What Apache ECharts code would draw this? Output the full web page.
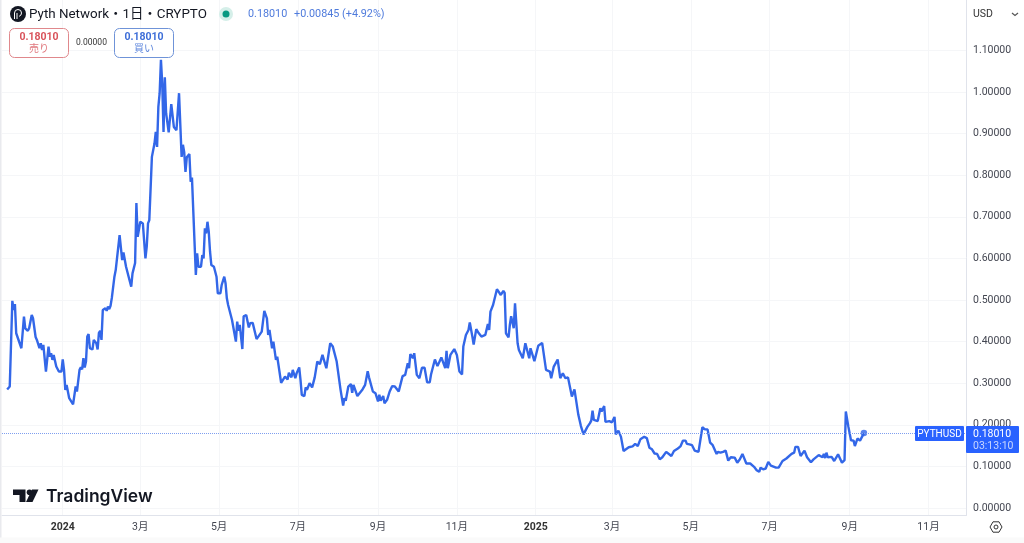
<!DOCTYPE html>
<html>
<head>
<meta charset="utf-8">
<title>PYTHUSD</title>
<script src="https://cdn.jsdelivr.net/npm/echarts@6/dist/echarts.min.js"></script>
<style>
  html, body { margin: 0; padding: 0; background: #fff; }
  #chart { width: 1024px; height: 543px; }
</style>
</head>
<body>
<div id="chart"></div>
<script>
// days counted from 2024-01-01
var days = [
  -43,-41,-39,-38,-37,-36,-35,-32,-30,-29,-28,-27,-26,-24,-23,-22,-21,-20,-18,-17,-16,-15,-13,-11,-10,-9,-8,-7,-5,-3,-1,
  0,1,2,3,5,6,8,10,11,13,14,15,16,17,18,19,20,21,23,24,26,27,28,29,30,31,33,34,35,36,37,38,40,41,44,46,47,49,51,53,54,56,57,58,
  60,62,64,65,66,67,69,71,72,73,74,75,76,77,78,79,80,82,84,86,88,90,92,93,94,95,96,98,99,100,103,104,105,107,108,109,110,111,112,113,114,115,117,119,
  120,122,123,125,126,127,128,129,131,134,135,136,137,138,139,140,142,144,145,147,150,151,154,156,158,159,160,162,163,165,166,169,172,174,175,177,178,180,
  181,183,184,185,187,188,189,191,193,195,197,199,201,202,204,207,209,212,215,217,218,219,221,223,224,225,226,228,232,234,236,237,240,242,
  244,245,246,248,249,251,253,255,257,260,263,265,267,268,269,271,272,274,275,276,278,280,282,284,285,286,288,290,293,296,297,298,300,303,
  305,307,309,310,312,314,315,317,318,320,322,324,327,329,330,331,333,336,339,341,342,343,345,346,347,349,350,352,353,354,356,358,359,361,362,365,
  368,371,374,377,378,380,383,385,387,389,391,394,396,399,400,401,403,406,408,409,410,411,414,416,417,419,420,423,425,
  427,428,430,432,434,438,439,441,443,445,447,450,452,454,456,458,460,462,464,467,471,473,476,478,480,482,483,485,487,489,492,
  495,497,499,501,503,506,507,509,511,513,515,517,520,522,524,526,529,532,535,537,539,540,542,544,546,548,549,552,554,557,560,
  564,566,567,569,571,574,576,579,581,582,585,588,589,590,591,592,595,597,600,603,605,606,608,610,612,613,615,617,620
];
var prices = [
  .285,.292,.498,.476,.49,.42,.421,.384,.46,.432,.436,.426,.432,.464,.456,.459,.411,.404,.384,.396,.38,.392,.328,.388,.364,.372,.356,.368,.34,.328,.328,
  .357,.332,.284,.296,.264,.26,.249,.292,.28,.332,.338,.333,.36,.338,.352,.412,.418,.384,.381,.404,.396,.381,.421,.426,.404,.476,.48,.474,.484,.478,.486,.505,.556,.572,.656,.596,.614,.58,.556,.532,.564,.589,.733,.652,
  .688,.684,.6,.628,.684,.692,.844,.876,.904,.868,.964,.997,1.077,1.02,.904,1.035,.949,.903,.971,.916,.908,.997,.844,.873,.855,.808,.843,.851,.784,.794,.56,.612,.58,.58,.608,.6,.672,.66,.688,.664,.616,.584,.58,.556,
  .516,.516,.536,.556,.54,.504,.488,.484,.452,.4,.448,.426,.44,.44,.382,.461,.464,.434,.444,.445,.406,.406,.424,.474,.456,.416,.428,.384,.4,.356,.364,.301,.316,.309,.325,.314,.332,.312,
  .324,.338,.308,.272,.269,.29,.284,.3,.29,.314,.352,.346,.368,.368,.336,.396,.388,.352,.284,.246,.264,.258,.292,.298,.277,.296,.292,.269,.285,.296,.329,.314,.28,.276,
  .256,.272,.258,.269,.252,.26,.28,.293,.292,.28,.317,.32,.348,.336,.37,.36,.372,.32,.316,.312,.337,.337,.302,.302,.321,.325,.357,.341,.362,.336,.378,.336,.368,.382,
  .368,.328,.321,.388,.416,.428,.446,.412,.393,.43,.42,.412,.416,.442,.428,.472,.488,.526,.512,.522,.517,.42,.41,.44,.461,.432,.492,.396,.38,.382,.36,.396,.392,.36,.384,.353,
  .39,.397,.332,.328,.312,.34,.357,.312,.324,.312,.314,.268,.285,.224,.222,.197,.177,.195,.204,.21,.234,.212,.209,.24,.232,.245,.207,.209,.206,
  .219,.177,.186,.171,.137,.146,.15,.148,.154,.149,.165,.171,.168,.145,.141,.131,.13,.117,.122,.135,.125,.137,.143,.148,.162,.162,.154,.153,.151,.138,.135,
  .194,.189,.189,.157,.151,.13,.135,.133,.135,.138,.114,.122,.121,.109,.117,.13,.107,.107,.099,.091,.087,.097,.093,.095,.111,.102,.103,.097,.097,.113,.119,
  .13,.133,.147,.147,.125,.138,.122,.11,.117,.114,.127,.122,.13,.12,.133,.122,.123,.113,.129,.109,.115,.232,.195,.163,.162,.149,.167,.162,.1801
];
var tickDays = [0,60,121,182,244,305,366,425,486,547,609,670];
var tickLabels = ['2024','3月','5月','7月','9月','11月','2025','3月','5月','7月','9月','11月'];
var priceTicks = [0,0.1,0.2,0.3,0.4,0.5,0.6,0.7,0.8,0.9,1.0,1.1];

var lastPrice = prices[prices.length - 1];
var blue = '#2962ff';
var lineBlue = '#3367e8';
var cjk = 'Roboto, "Noto Sans CJK JP", sans-serif';

var lineData = days.map(function (d, i) { return [d, prices[i]]; });

function txt(x, y, text, size, color, extra) {
  var s = { x: x, y: y, text: text, fontSize: size, fill: color, fontFamily: cjk, textVerticalAlign: 'middle' };
  for (var k in (extra || {})) s[k] = extra[k];
  return { type: 'text', z: 20, silent: true, style: s };
}
function box(x, y, w, h, r, fill, stroke) {
  return { type: 'rect', z: 19, silent: true, shape: { x: x, y: y, width: w, height: h, r: r },
    style: { fill: fill, stroke: stroke || null, lineWidth: 1 } };
}

var chart = echarts.init(document.getElementById('chart'));

chart.setOption({
  animation: false,
  backgroundColor: '#fff',
  grid: { left: 2, right: 58, top: 0, bottom: 27.5 },
  xAxis: {
    type: 'value',
    min: -47,
    max: 699,
    axisLine: { onZero: false, lineStyle: { color: '#e0e3eb' } },
    axisTick: { show: false, customValues: tickDays },
    splitLine: { show: true, lineStyle: { color: '#f5f6f8' } },
    axisLabel: {
      customValues: tickDays,
      margin: 7,
      hideOverlap: false,
      color: '#434651',
      fontSize: 10.5,
      fontFamily: cjk,
      formatter: function (v) {
        var label = tickLabels[tickDays.indexOf(v)];
        return label.length === 4 ? '{year|' + label + '}' : label;
      },
      rich: { year: { fontWeight: 'bold', fontSize: 10.5, color: '#333', fontFamily: cjk } }
    }
  },
  yAxis: {
    type: 'value',
    position: 'right',
    min: -0.018,
    max: 1.221,
    axisLine: { show: true, onZero: false, lineStyle: { color: '#e0e3eb' } },
    axisTick: { show: false, customValues: priceTicks },
    splitLine: { show: true, lineStyle: { color: '#f5f6f8' } },
    axisLabel: {
      customValues: priceTicks,
      margin: 7,
      padding: [2, 0, 0, 0],
      color: '#434651',
      fontSize: 10.5,
      fontFamily: cjk,
      formatter: function (v) { return v.toFixed(5); }
    }
  },
  series: [
    {
      type: 'line',
      data: lineData,
      showSymbol: false,
      smooth: false,
      lineStyle: { color: lineBlue, width: 2.4 },
      markLine: {
        silent: true,
        symbol: 'none',
        label: { show: false },
        lineStyle: { color: '#7f9fef', type: 'dotted', width: 1 },
        data: [{ yAxis: lastPrice }]
      }
    },
    {
      type: 'scatter',
      data: [lineData[lineData.length - 1]],
      symbolSize: 6.5,
      itemStyle: { color: lineBlue }
    }
  ],
  graphic: [
    // left edge strip
    box(0, 0, 1.5, 543, 0, '#e9eaee'),

    // title row
    { type: 'circle', z: 19, silent: true, shape: { cx: 18, cy: 14, r: 8 }, style: { fill: '#131722' } },
    { type: 'arc', z: 20, silent: true, shape: { cx: 18, cy: 13, r: 3.5, startAngle: Math.PI, endAngle: Math.PI * 2.4 },
      style: { stroke: '#fff', lineWidth: 1, fill: null } },
    { type: 'line', z: 20, silent: true, shape: { x1: 14.5, y1: 13, x2: 14.5, y2: 19 }, style: { stroke: '#fff', lineWidth: 1 } },
    { type: 'line', z: 20, silent: true, shape: { x1: 17, y1: 13, x2: 17, y2: 19 }, style: { stroke: '#fff', lineWidth: 1 } },
    txt(29, 14.5, 'Pyth Network・1日・CRYPTO', 13.4, '#131722'),
    { type: 'circle', z: 19, silent: true, shape: { cx: 226, cy: 14, r: 7 }, style: { fill: '#d5efe9' } },
    { type: 'circle', z: 20, silent: true, shape: { cx: 226, cy: 14, r: 3.5 }, style: { fill: '#089981' } },
    txt(248, 14.5, '0.18010', 10.8, '#4f7bdc'),
    txt(294, 14.5, '+0.00845 (+4.92%)', 10.8, '#4f7bdc'),

    // sell / buy badges
    box(9.5, 28.5, 59, 29, 5, '#fff', '#e0888c'),
    txt(39, 37, '0.18010', 10.5, '#d9545c', { textAlign: 'center', fontWeight: 'bold' }),
    txt(39, 49.5, '売り', 10, '#e0777d', { textAlign: 'center' }),
    txt(76, 43, '0.00000', 8.5, '#333', {}),
    box(114.5, 28.5, 59, 29, 5, '#fff', '#6f93d8'),
    txt(144, 37, '0.18010', 10.5, '#3f6fd8', { textAlign: 'center', fontWeight: 'bold' }),
    txt(144, 49.5, '買い', 10, '#5d86dc', { textAlign: 'center' }),

    // currency
    box(967, 0, 57, 28, 0, '#fff'),
    txt(973, 14, 'USD', 10.5, '#333'),
    { type: 'polyline', z: 20, silent: true, shape: { points: [[1012, 13], [1015, 15.5], [1018, 13]] },
      style: { stroke: '#555', lineWidth: 1.2, fill: null } },

    // last price tags
    box(915, 426, 49, 15, 1, blue),
    txt(939.5, 434, 'PYTHUSD', 10, '#fff', { textAlign: 'center' }),
    box(966, 426, 53, 27, 1, blue),
    txt(973, 434, '0.18010', 10.5, '#fff'),
    txt(973, 446.5, '03:13:10', 10.5, '#c9d6ff'),

    // TradingView mark
    { type: 'polygon', z: 20, silent: true, shape: { points: [[13, 489.5], [25.5, 489.5], [25.5, 502], [19.5, 502], [19.5, 495], [13, 495]] },
      style: { fill: '#131722' } },
    { type: 'circle', z: 20, silent: true, shape: { cx: 29.5, cy: 492.3, r: 2.8 }, style: { fill: '#131722' } },
    { type: 'polygon', z: 20, silent: true, shape: { points: [[32, 489.5], [38.5, 489.5], [32.5, 502], [26, 502]] },
      style: { fill: '#131722' } },
    txt(46, 496.5, 'TradingView', 17.5, '#131722', { fontWeight: 600, fontFamily: 'Inter, Roboto, sans-serif' }),

    // settings icon
    { type: 'polygon', z: 20, silent: true, shape: { points: [[990, 527], [993, 521.8], [999, 521.8], [1002, 527], [999, 532.2], [993, 532.2]] },
      style: { stroke: '#333', lineWidth: 1, fill: '#fff' } },
    { type: 'circle', z: 20, silent: true, shape: { cx: 996, cy: 527, r: 2 }, style: { stroke: '#333', lineWidth: 1, fill: '#fff' } },

    // bottom edge
    box(0, 537.5, 1024, 5.5, 0, '#fafafa')
  ]
});
</script>
</body>
</html>
